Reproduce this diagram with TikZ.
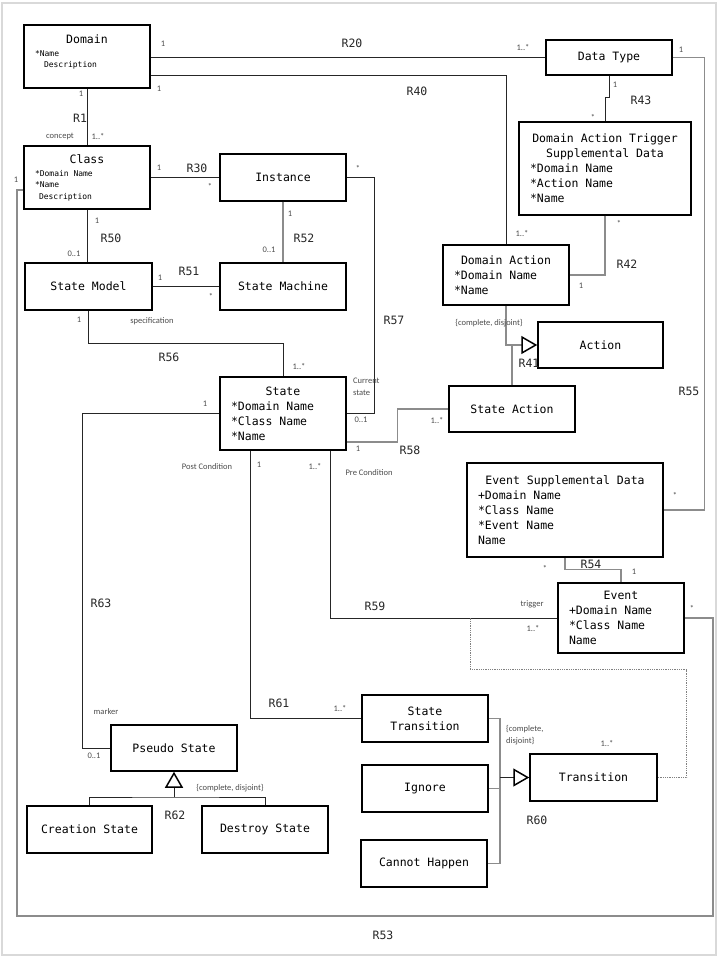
\documentclass[tikz,border=0pt]{standalone}
\usepackage{fontspec}
\setmonofont{DejaVu Sans Mono}
\newfontfamily\labelfont{Carlito}
\usetikzlibrary{arrows.meta}
\newcommand{\boxtitle}[1]{\makebox[\hsize]{#1}}
\newcommand{\attrfont}{\fontsize{8}{10}\selectfont}

\begin{document}
\begin{tikzpicture}[
    x=1pt, y=-1pt,
    % class boxes
    umlbox/.style={draw, line width=1.5pt, inner xsep=11pt, inner ysep=2pt, minimum width=126pt, minimum height=47pt, align=center, font=\ttfamily\fontsize{11.5}{15}\selectfont},
    attrbox/.style={umlbox, align=flush left, text width=104pt},
    % connectors
    assoc/.style={draw=black!85, line width=0.8pt},
    assocgray/.style={draw=black!45, line width=1.1pt},
    gen/.style={-{Triangle[open, length=16pt, width=18pt, line width=1.5pt, color=black]}},
    assoclink/.style={draw=black!50, line width=0.8pt, densely dotted},
    % texts on the connectors
    mult/.style={font=\labelfont\fontsize{8.5}{12}\selectfont, text=black!70, inner sep=0pt},
    rel/.style={font=\ttfamily\fontsize{11.5}{13}\selectfont, text=black!85, inner sep=0pt}
]
\useasboundingbox (0,0) rectangle (720,957);
\draw[black!15, line width=2pt] (2,3) rectangle (716,955);

% ---------------- classes ----------------
\node[attrbox, minimum height=63pt] (domain) at (87,56.5) {\boxtitle{Domain}\\[-2pt]{\attrfont *Name}\\[-4pt]{\attrfont\hspace*{9pt}Description}\\[-4pt]\mbox{}};
\node[attrbox, minimum height=63pt] (class) at (87,177.5) {\boxtitle{Class}\\[-2pt]{\attrfont *Domain Name}\\[-4pt]{\attrfont *Name}\\[-3pt]{\attrfont\hspace*{4pt}Description}};
\node[umlbox] (instance) at (283,177.5) {Instance};
\node[umlbox, minimum width=127pt] (smodel) at (88.5,286.5) {State Model};
\node[umlbox] (smachine) at (283,286.5) {State Machine};
\node[attrbox, minimum height=73pt] (state) at (283,413.5) {\boxtitle{State}\\{}*Domain Name\\{}*Class Name\\{}*Name};

\node[umlbox, minimum height=35pt] (dtype) at (609,57.5) {Data Type};
\node[attrbox, text width=150pt, minimum height=93pt] (datsd) at (605,168.5) {\boxtitle{Domain Action Trigger}\\\boxtitle{Supplemental Data}\\{}*Domain Name\\{}*Action Name\\{}*Name};
\node[attrbox, minimum height=60pt] (dact) at (506,275) {\boxtitle{Domain Action}\\{}*Domain Name\\{}*Name};
\node[umlbox, minimum width=125pt, minimum height=46pt] (action) at (600.5,345) {Action};
\node[umlbox, minimum height=46pt] (sact) at (512,409) {State Action};
\node[attrbox, text width=174pt, minimum height=94pt] (esd) at (565,510) {\boxtitle{Event Supplemental Data}\\+Domain Name\\{}*Class Name\\{}*Event Name\\Name};
\node[attrbox, minimum height=70pt] (event) at (621,618) {\boxtitle{Event}\\+Domain Name\\{}*Class Name\\Name};

\node[umlbox] (st) at (425,718.5) {State\\Transition};
\node[umlbox] (ignore) at (425,788.5) {Ignore};
\node[umlbox] (chappen) at (424,863.5) {Cannot Happen};
\node[umlbox, minimum width=127pt] (trans) at (593.5,777.5) {Transition};

\node[umlbox, minimum height=46pt] (pseudo) at (174,748) {Pseudo State};
\node[umlbox, minimum width=125pt] (creation) at (89.5,829.5) {Creation State};
\node[umlbox] (destroy) at (265,829.5) {Destroy State};

% ---------------- helper points ----------------
\coordinate (r53sw) at (17,916);
\coordinate (r53se) at (713,916);
\coordinate (r60bus) at (500,777.5);
\coordinate (r62bar) at (174,797);
\coordinate (r59link) at (470,618);

% ---------------- associations ----------------
\draw[assoc] (domain.east |- dtype.west) -- (dtype.west);              % R20
\draw[assoc] ([yshift=13]domain.south east) -| (dact.north);          % R40
\draw[assoc] (domain.south) -- (class.north);                         % R1
\draw[assoc] (class.east) -- (instance.west);                         % R30
\draw[assoc] (class.south) -- (class.south |- smodel.north);          % R50
\draw[assocgray] (instance.south) -- (smachine.north);                % R52
\draw[assoc] (smodel.east) -- (smachine.west);                        % R51
\draw[assoc] (smodel.south) -- ++(0,33) -| (state.north);             % R56
\draw[assoc] (instance.east) -- ++(28,0) |- (state.east);             % R57
\draw[assocgray] ([yshift=-28.5]state.east) -- ++(51,0) |- (sact.west); % R58
\draw[assoc] (state.west) -- ++(-137,0) |- (pseudo.west);             % R63
\draw[assoc] ([xshift=-33]state.south) |- (st.west);                  % R61
\draw[assoc] ([xshift=47]state.south) |- (event.west);                % R59
\draw[assoclink] (trans.east) -| ++(29,-108) -| (r59link);
\draw[assocgray] ([yshift=-12.5]class.west) -| (r53sw) -- (r53se) |- (event.east); % R53

\draw[assoc] (dtype.south) -- ++(0,22) -| (datsd.north);              % R43
\draw[assocgray] (datsd.south) |- (dact.east);                        % R42
\draw[assocgray] (dtype.east) -- ++(32,0) |- (esd.east);              % R55
\draw[assocgray] (esd.south) -- ++(0,12) -| (event.north);            % R54

% ---------------- generalisations ----------------
\draw[assocgray, gen] (dact.south) |- (action.west);                  % R41
\draw[assocgray] (sact.north) -- (sact.north |- action.west);

\draw[assocgray] (st.east) -| (r60bus |- chappen.east) -- (chappen.east); % R60
\draw[assocgray] (ignore.east) -- (ignore.east -| r60bus);
\draw[assoc, gen] (r60bus) -- (trans.west);

\draw[assoc] (creation.north) |- (r62bar) -| (destroy.north);         % R62
\draw[assoc, gen] (r62bar) -- (pseudo.south);

% ---------------- relationship numbers ----------------
\node[rel] (r20) at (352,43) {R20};
\node[rel] (r40) at (417,91) {R40};
\node[rel] (r1) at (80,118) {R1};
\node[rel] (r30) at (197,168) {R30};
\node[rel] (r50) at (111,238) {R50};
\node[rel] (r52) at (304,238) {R52};
\node[rel] (r51) at (189,271) {R51};
\node[rel] (r56) at (169,357) {R56};
\node[rel] (r57) at (394,320) {R57};
\node[rel] (r43) at (641,100) {R43};
\node[rel] (r42) at (627,264) {R42};
\node[rel] (r41) at (529,363) {R41};
\node[rel] (r58) at (410,450) {R58};
\node[rel] (r55) at (689,391) {R55};
\node[rel] (r54) at (591,564) {R54};
\node[rel] (r59) at (375,606) {R59};
\node[rel] (r63) at (101,603) {R63};
\node[rel] (r61) at (279,703) {R61};
\node[rel] (r62) at (175,815) {R62};
\node[rel] (r60) at (537,820) {R60};
\node[rel] (r53) at (383,935) {R53};

% ---------------- multiplicities and roles ----------------
\node[mult] (r20a) at (163,44) {1};
\node[mult] (r20b) at (523,48) {1..*};
\node[mult] (r40a) at (159,89) {1};
\node[mult] (r40b) at (522,234) {1..*};
\node[mult] (r1a) at (81,94) {1};
\node[mult] (r1role) at (60,136) {concept};
\node[mult] (r1b) at (98,137) {1..*};
\node[mult] (r30a) at (159,168) {1};
\node[mult] (r30b) at (210,186) {*};
\node[mult] (r53a) at (16,180) {1};
\node[mult] (r53b) at (692,608) {*};
\node[mult] (r50a) at (97,221) {1};
\node[mult] (r50b) at (74,254) {0..1};
\node[mult] (r52a) at (290,214) {1};
\node[mult] (r52b) at (269,250) {0..1};
\node[mult] (r51a) at (160,278) {1};
\node[mult] (r51b) at (211,296) {*};
\node[mult] (r56a) at (79,320) {1};
\node[mult] (r56role) at (152,321) {specification};
\node[mult] (r56b) at (299,367) {1..*};
\node[mult] (r57a) at (358,168) {*};
\node[mult, align=left, anchor=west] (r57role) at (353,387) {Current\\state};
\node[mult] (r57b) at (361,420) {0..1};
\node[mult] (r58a) at (358,449) {1};
\node[mult] (r58b) at (437,421) {1..*};
\node[mult] (r63a) at (205,404) {1};
\node[mult] (r63role) at (207,467) {Post Condition};
\node[mult] (r63role2) at (106,712) {marker};
\node[mult] (r63b) at (94,756) {0..1};
\node[mult] (r61a) at (259,465) {1};
\node[mult] (r61b) at (340,709) {1..*};
\node[mult] (r59a) at (315,467) {1..*};
\node[mult] (r59role) at (369,473) {Pre Condition};
\node[mult] (r59role2) at (532,604) {trigger};
\node[mult] (r59b) at (533,629) {1..*};
\node[mult] (r41c) at (489,323) {\{complete, disjoint\}};
\node[mult] (r43a) at (615,85) {1};
\node[mult] (r43b) at (593,117) {*};
\node[mult] (r42a) at (619,223) {*};
\node[mult] (r42b) at (581,286) {1};
\node[mult] (r55a) at (681,50) {1};
\node[mult] (r55b) at (675,495) {*};
\node[mult] (r54a) at (545,568) {*};
\node[mult] (r54b) at (634,572) {1};
\node[mult, align=left, anchor=west] (r60c) at (506,735) {\{complete,\\disjoint\}};
\node[mult] (r60a) at (607,744) {1..*};
\node[mult] (r62c) at (230,788) {\{complete, disjoint\}};

\end{tikzpicture}
\end{document}
